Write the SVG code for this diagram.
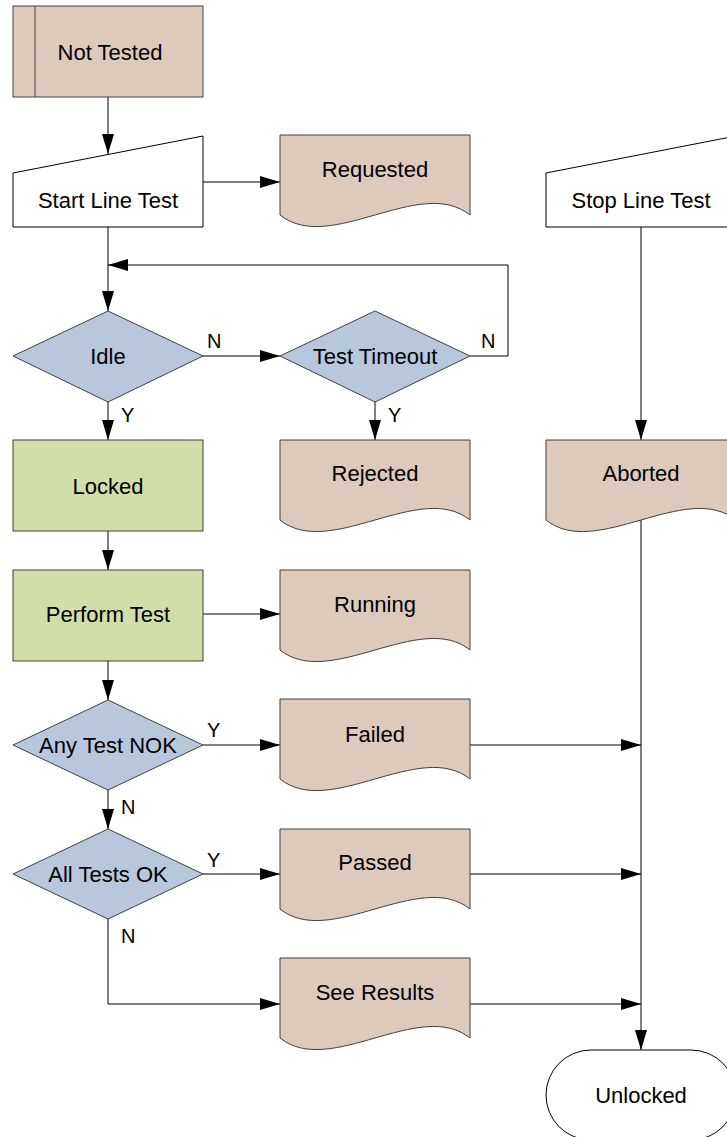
<svg xmlns="http://www.w3.org/2000/svg" width="727" height="1137" viewBox="0 0 727 1137">
<style>
.t{font-family:"Liberation Sans",Arial,sans-serif;font-size:22px;fill:#000;text-anchor:middle}
.l{font-family:"Liberation Sans",Arial,sans-serif;font-size:20px;fill:#000}
.doc{fill:#dccbbd;stroke:#404040;stroke-width:1}
.dia{fill:#b9c7dc;stroke:#404040;stroke-width:1}
.grn{fill:#d1dea9;stroke:#404040;stroke-width:1}
.wht{fill:#fff;stroke:#000;stroke-width:1}
.c{fill:none;stroke:#000;stroke-width:1}
</style>
<defs>
<marker id="a" markerUnits="userSpaceOnUse" markerWidth="20" markerHeight="12" refX="20" refY="6" orient="auto" viewBox="0 0 20 12">
<path d="M0,0 L20,6 L0,12 Z" fill="#000"/>
</marker>
</defs>
<rect width="727" height="1137" fill="#fff"/>
<g id="connectors">
<line class="c" x1="108" y1="97" x2="108" y2="154" marker-end="url(#a)"/>
<line class="c" x1="203" y1="182" x2="280" y2="182" marker-end="url(#a)"/>
<line class="c" x1="108" y1="227" x2="108" y2="311" marker-end="url(#a)"/>
<polyline class="c" points="470,356 508,356 508,265 108,265" marker-end="url(#a)"/>
<line class="c" x1="203" y1="356" x2="280" y2="356" marker-end="url(#a)"/>
<line class="c" x1="108" y1="402" x2="108" y2="440" marker-end="url(#a)"/>
<line class="c" x1="375" y1="402" x2="375" y2="440" marker-end="url(#a)"/>
<line class="c" x1="641" y1="227" x2="641" y2="440" marker-end="url(#a)"/>
<line class="c" x1="641" y1="520" x2="641" y2="1050" marker-end="url(#a)"/>
<line class="c" x1="108" y1="531" x2="108" y2="570" marker-end="url(#a)"/>
<line class="c" x1="203" y1="614" x2="280" y2="614" marker-end="url(#a)"/>
<line class="c" x1="108" y1="661" x2="108" y2="700" marker-end="url(#a)"/>
<line class="c" x1="203" y1="745" x2="280" y2="745" marker-end="url(#a)"/>
<line class="c" x1="470" y1="745" x2="641" y2="745" marker-end="url(#a)"/>
<line class="c" x1="108" y1="790" x2="108" y2="829" marker-end="url(#a)"/>
<line class="c" x1="203" y1="874" x2="280" y2="874" marker-end="url(#a)"/>
<line class="c" x1="470" y1="874" x2="641" y2="874" marker-end="url(#a)"/>
<polyline class="c" points="108,919 108,1004 280,1004" marker-end="url(#a)"/>
<line class="c" x1="470" y1="1004" x2="641" y2="1004" marker-end="url(#a)"/>
<text class="l" x="207" y="348">N</text>
<text class="l" x="481" y="348">N</text>
<text class="l" x="121" y="422">Y</text>
<text class="l" x="388" y="422">Y</text>
<text class="l" x="207" y="737">Y</text>
<text class="l" x="121" y="814">N</text>
<text class="l" x="207" y="867">Y</text>
<text class="l" x="121" y="943">N</text>
</g>
<g id="not-tested">
<rect class="doc" x="13" y="6" width="190" height="91"/>
<line x1="35" y1="6" x2="35" y2="97" stroke="#404040"/>
<text class="t" x="110" y="60">Not Tested</text>
</g>
<g id="start-line-test">
<polygon class="wht" points="13,173 203,136 203,227 13,227"/>
<text class="t" x="108" y="207.5">Start Line Test</text>
</g>
<g id="requested">
<path class="doc" d="M280,135 H470 V215 C420,175 330,255 280,215 Z"/>
<text class="t" x="375" y="176.5">Requested</text>
</g>
<g id="stop-line-test">
<polygon class="wht" points="546,173 736,136 736,227 546,227"/>
<text class="t" x="641" y="207.5">Stop Line Test</text>
</g>
<g id="idle">
<polygon class="dia" points="13,356 108,311 203,356 108,402"/>
<text class="t" x="108" y="364">Idle</text>
</g>
<g id="test-timeout">
<polygon class="dia" points="280,356 375,311 470,356 375,402"/>
<text class="t" x="375" y="364">Test Timeout</text>
</g>
<g id="locked">
<rect class="grn" x="13" y="440" width="190" height="91"/>
<text class="t" x="108" y="493.5">Locked</text>
</g>
<g id="rejected">
<path class="doc" d="M280,440 H470 V520 C420,480 330,560 280,520 Z"/>
<text class="t" x="375" y="481">Rejected</text>
</g>
<g id="aborted">
<path class="doc" d="M546,440 H736 V520 C686,480 596,560 546,520 Z"/>
<text class="t" x="641" y="481">Aborted</text>
</g>
<g id="perform-test">
<rect class="grn" x="13" y="570" width="190" height="91"/>
<text class="t" x="108" y="622">Perform Test</text>
</g>
<g id="running">
<path class="doc" d="M280,570 H470 V650 C420,610 330,690 280,650 Z"/>
<text class="t" x="375" y="612">Running</text>
</g>
<g id="any-test-nok">
<polygon class="dia" points="13,745 108,700 203,745 108,790"/>
<text class="t" x="108" y="753">Any Test NOK</text>
</g>
<g id="failed">
<path class="doc" d="M280,699 H470 V779 C420,739 330,819 280,779 Z"/>
<text class="t" x="375" y="742">Failed</text>
</g>
<g id="all-tests-ok">
<polygon class="dia" points="13,874 108,829 203,874 108,919"/>
<text class="t" x="108" y="882">All Tests OK</text>
</g>
<g id="passed">
<path class="doc" d="M280,829 H470 V909 C420,869 330,949 280,909 Z"/>
<text class="t" x="375" y="870">Passed</text>
</g>
<g id="see-results">
<path class="doc" d="M280,958 H470 V1038 C420,998 330,1078 280,1038 Z"/>
<text class="t" x="375" y="1000">See Results</text>
</g>
<g id="unlocked">
<rect class="wht" x="546" y="1050" width="190" height="90" rx="45" ry="45"/>
<text class="t" x="641" y="1103">Unlocked</text>
</g>
</svg>
